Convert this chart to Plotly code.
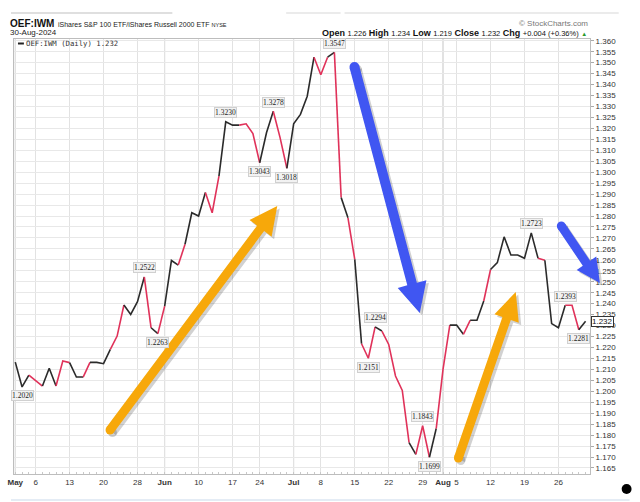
import plotly.graph_objects as go
import pandas as pd

# ---------------- data ----------------
holidays = ["2024-05-27", "2024-06-19", "2024-07-04"]
dates = [d for d in pd.bdate_range("2024-05-01", "2024-08-30") if d.strftime("%Y-%m-%d") not in holidays]

values = [
    1.2133, 1.2020, 1.2074, 1.2047, 1.2024, 1.2105, 1.2024, 1.2138, 1.2131, 1.2065,
    1.2065, 1.2132, 1.2132, 1.2126, 1.2191, 1.2252, 1.2394, 1.2351, 1.2409, 1.2522,
    1.2290, 1.2263, 1.2389, 1.2597, 1.2576, 1.2671, 1.2815, 1.2800, 1.2907, 1.2815,
    1.2982, 1.3230, 1.3215, 1.3215, 1.3221, 1.3176, 1.3043, 1.3180, 1.3278, 1.3158,
    1.3018, 1.3221, 1.3264, 1.3347, 1.3525, 1.3445, 1.3525, 1.3547, 1.2884, 1.2792,
    1.2602, 1.2217, 1.2151, 1.2294, 1.2275, 1.2214, 1.2070, 1.2004, 1.1766, 1.1712,
    1.1843, 1.1699, 1.1830, 1.2100, 1.2302, 1.2302, 1.2260, 1.2324, 1.2324, 1.2412,
    1.2556, 1.2587, 1.2705, 1.2622, 1.2622, 1.2607, 1.2723, 1.2607, 1.2598, 1.2309,
    1.2290, 1.2393, 1.2393, 1.2281, 1.2320,
]
# colour of each segment (k = black, r = red), segment i joins point i-1 to i
seg_colors = ("kkrrkkrrkk" "rkkkrrkkkr" "krkkrkkkrr" "kkkrrrkkrr" "kkkkrrkrkr"
              "krrkrrrrkr" "rkrrkkrkkr" "kkkkkkkrkk" "krrk")
# labelled highs / lows: (index, above?)
point_labels = [(1, False), (19, True), (21, False), (31, True), (36, False), (38, True),
                (40, False), (47, True), (52, False), (53, True), (60, True), (61, False),
                (76, True), (81, True), (83, False)]

title_sym = "OEF:IWM"
title_name = "iShares S&P 100 ETF/iShares Russell 2000 ETF"
exchange = "NYSE"
date_str = "30-Aug-2024"
ohlc = [("Open", "1.226"), ("High", "1.234"), ("Low", "1.219"), ("Close", "1.232"), ("Chg", "+0.004 (+0.36%)")]
legend_txt = "OEF:IWM (Daily) 1.232"

COL = {"k": "#2b2b2b", "r": "#e0325a"}
ORANGE = "#f7a80a"
BLUE = "#4056f2"
FONT = "Liberation Sans"

# ---------------- geometry helpers ----------------
W, H = 640, 502
L, R, T, B = 8, 590, 39, 474


def px(xp):
    return (xp - L) / (R - L)


def py(yp):
    return (B - yp) / (B - T)


n = len(values)
idx = list(range(n))

fig = go.Figure()

# line segments, grouped into runs of equal colour
runs = []
for i in range(1, n):
    c = seg_colors[i - 1]
    if runs and runs[-1][0] == c and runs[-1][2] == i - 1:
        runs[-1][2] = i
    else:
        runs.append([c, i - 1, i])
for c, a, b in runs:
    fig.add_trace(go.Scatter(x=idx[a:b + 1], y=values[a:b + 1], mode="lines",
                             line=dict(color=COL[c], width=1.6), hoverinfo="skip",
                             showlegend=False))

# ticks: first trading day of each week / month
tickvals, ticktext, month_idx = [], [], []
for i, d in enumerate(dates):
    new_month = i == 0 or d.month != dates[i - 1].month
    new_week = i == 0 or d.isocalendar()[1] != dates[i - 1].isocalendar()[1]
    if new_month:
        tickvals.append(i)
        ticktext.append("<b>" + d.strftime("%b") + "</b>")
        month_idx.append(i)
    elif new_week:
        tickvals.append(i)
        ticktext.append(str(d.day))

x0 = (L - 9.3) / 6.86
x1 = (R - 9.3) / 6.86
y_of = lambda p: 1.355 - (p - 51.7) / 2191.0

shapes = []
for m in month_idx:
    shapes.append(dict(type="line", xref="x", yref="paper", x0=m, x1=m, y0=0, y1=1,
                       line=dict(color="#c4c4c4", width=1), layer="below"))


def arrow(tail, tip, sw, hl, hw, color):
    import math
    tx, ty = tail
    hx, hy = tip
    dx, dy = hx - tx, hy - ty
    ln = math.hypot(dx, dy)
    ux, uy = dx / ln, dy / ln
    nx, ny = -uy, ux
    bx, by = hx - ux * hl, hy - uy * hl
    pts = [
        (tx + nx * sw / 2, ty + ny * sw / 2),
        (bx + nx * sw / 2, by + ny * sw / 2),
        (bx + nx * hw, by + ny * hw),
        (hx, hy),
        (bx - nx * hw, by - ny * hw),
        (bx - nx * sw / 2, by - ny * sw / 2),
        (tx - nx * sw / 2, ty - ny * sw / 2),
    ]
    out = []
    for off, col in ((2.5, "rgba(0,0,0,0.18)"), (0, color)):
        path = "M " + " L ".join(f"{px(a + off):.5f},{py(b + off):.5f}" for a, b in pts) + " Z"
        out.append(dict(type="path", xref="paper", yref="paper", path=path,
                        fillcolor=col, line=dict(width=0), layer="above"))
        r = sw / 2
        out.append(dict(type="circle", xref="paper", yref="paper",
                        x0=px(tx + off - r), x1=px(tx + off + r),
                        y0=py(ty + off + r), y1=py(ty + off - r),
                        fillcolor=col, line=dict(width=0), layer="above"))
    return out


shapes += arrow((105, 430), (274, 206), 9, 28, 14, ORANGE)
shapes += arrow((457, 458), (515, 292), 9, 28, 13, ORANGE)
shapes += arrow((352, 67), (418, 313), 10, 30, 15, BLUE)
shapes += arrow((561, 226), (600, 283), 9, 24, 12, BLUE)

# decorative header lines, bottom line
for a, b, c in ((5, 168, "#d4d4d4"), (283, 338, "#e4e4e4"), (342, 619, "#e4e4e4")):
    shapes.append(dict(type="line", xref="paper", yref="paper", x0=px(a), x1=px(b),
                       y0=py(13), y1=py(13), line=dict(color=c, width=1.5)))
shapes.append(dict(type="line", xref="paper", yref="paper", x0=px(5), x1=px(630),
                   y0=py(500), y1=py(500), line=dict(color="#c9d9ea", width=1)))
shapes.append(dict(type="circle", xref="paper", yref="paper", x0=px(622), x1=px(632),
                   y0=py(494), y1=py(484), fillcolor="black", line=dict(width=0)))
# legend line sample
shapes.append(dict(type="line", xref="paper", yref="paper", x0=px(12), x1=px(18),
                   y0=py(43.5), y1=py(43.5), line=dict(color="#222", width=2)))

annotations = []
for i, above in point_labels:
    annotations.append(dict(x=i, y=values[i], xref="x", yref="y", text=f"{values[i]:.4f}",
                            showarrow=False, yshift=9 if above else -9,
                            font=dict(family="Liberation Serif", size=7.5, color="#222"),
                            bgcolor="#f2f2f2", bordercolor="#d0d0d0", borderwidth=1, borderpad=0))

annotations.append(dict(x=px(591), y=values[-1], xref="paper", yref="y", xanchor="left",
                        text=f"{values[-1]:.3f}", showarrow=False,
                        font=dict(family=FONT, size=8, color="#111"),
                        bgcolor="white", bordercolor="#333", borderwidth=1, borderpad=0))

hdr = dict(xref="paper", yref="paper", showarrow=False, yanchor="middle")
annotations.append(dict(hdr, x=px(2), y=py(24), xanchor="left",
                        text=f"<b>{title_sym}</b>",
                        font=dict(family=FONT, size=10, color="#111")))
annotations.append(dict(hdr, x=px(50), y=py(24.5), xanchor="left",
                        text=f"{title_name} <span style='font-size:5.5px'>{exchange}</span>",
                        font=dict(family=FONT, size=7, color="#222")))
annotations.append(dict(hdr, x=px(2), y=py(33), xanchor="left", text=date_str,
                        font=dict(family=FONT, size=8, color="#222")))
annotations.append(dict(hdr, x=px(590), y=py(24), xanchor="right", text="© StockCharts.com",
                        font=dict(family=FONT, size=8, color="#777")))
ohlc_txt = " ".join(f"<b>{k}</b> <span style='font-size:7.5px'>{v}</span>" for k, v in ohlc)
ohlc_txt += " <span style='color:#2a9a2a;font-size:6px'>▲</span>"
annotations.append(dict(hdr, x=px(589), y=py(33), xanchor="right", text=ohlc_txt,
                        font=dict(family=FONT, size=9, color="#111")))
annotations.append(dict(hdr, x=px(18), y=py(43.5), xanchor="left", text=legend_txt,
                        font=dict(family="DejaVu Sans Mono", size=7.3, color="#333")))

fig.update_layout(
    width=W, height=H,
    margin=dict(l=L, r=W - R, t=T, b=H - B),
    paper_bgcolor="white", plot_bgcolor="white",
    shapes=shapes, annotations=annotations,
    xaxis=dict(range=[x0, x1], tickvals=tickvals, ticktext=ticktext, showgrid=True,
               gridcolor="#e2e2e2", gridwidth=1, showline=True, linecolor="#bdbdbd",
               mirror=True, zeroline=False, ticks="",
               tickfont=dict(family=FONT, size=8, color="#333"),
               minor=dict(tick0=0, dtick=1, ticks="inside", ticklen=2, tickcolor="#c8c8c8",
                          showgrid=False)),
    yaxis=dict(range=[y_of(B), y_of(T)], side="right", tick0=1.165, dtick=0.005,
               tickformat=".3f", showgrid=True, gridcolor="#e8e8e8", showline=True,
               linecolor="#bdbdbd", mirror=True, zeroline=False, ticks="outside",
               ticklen=3, tickcolor="#aaa",
               tickfont=dict(family=FONT, size=8, color="#333")),
)

fig.write_html("out.html")
